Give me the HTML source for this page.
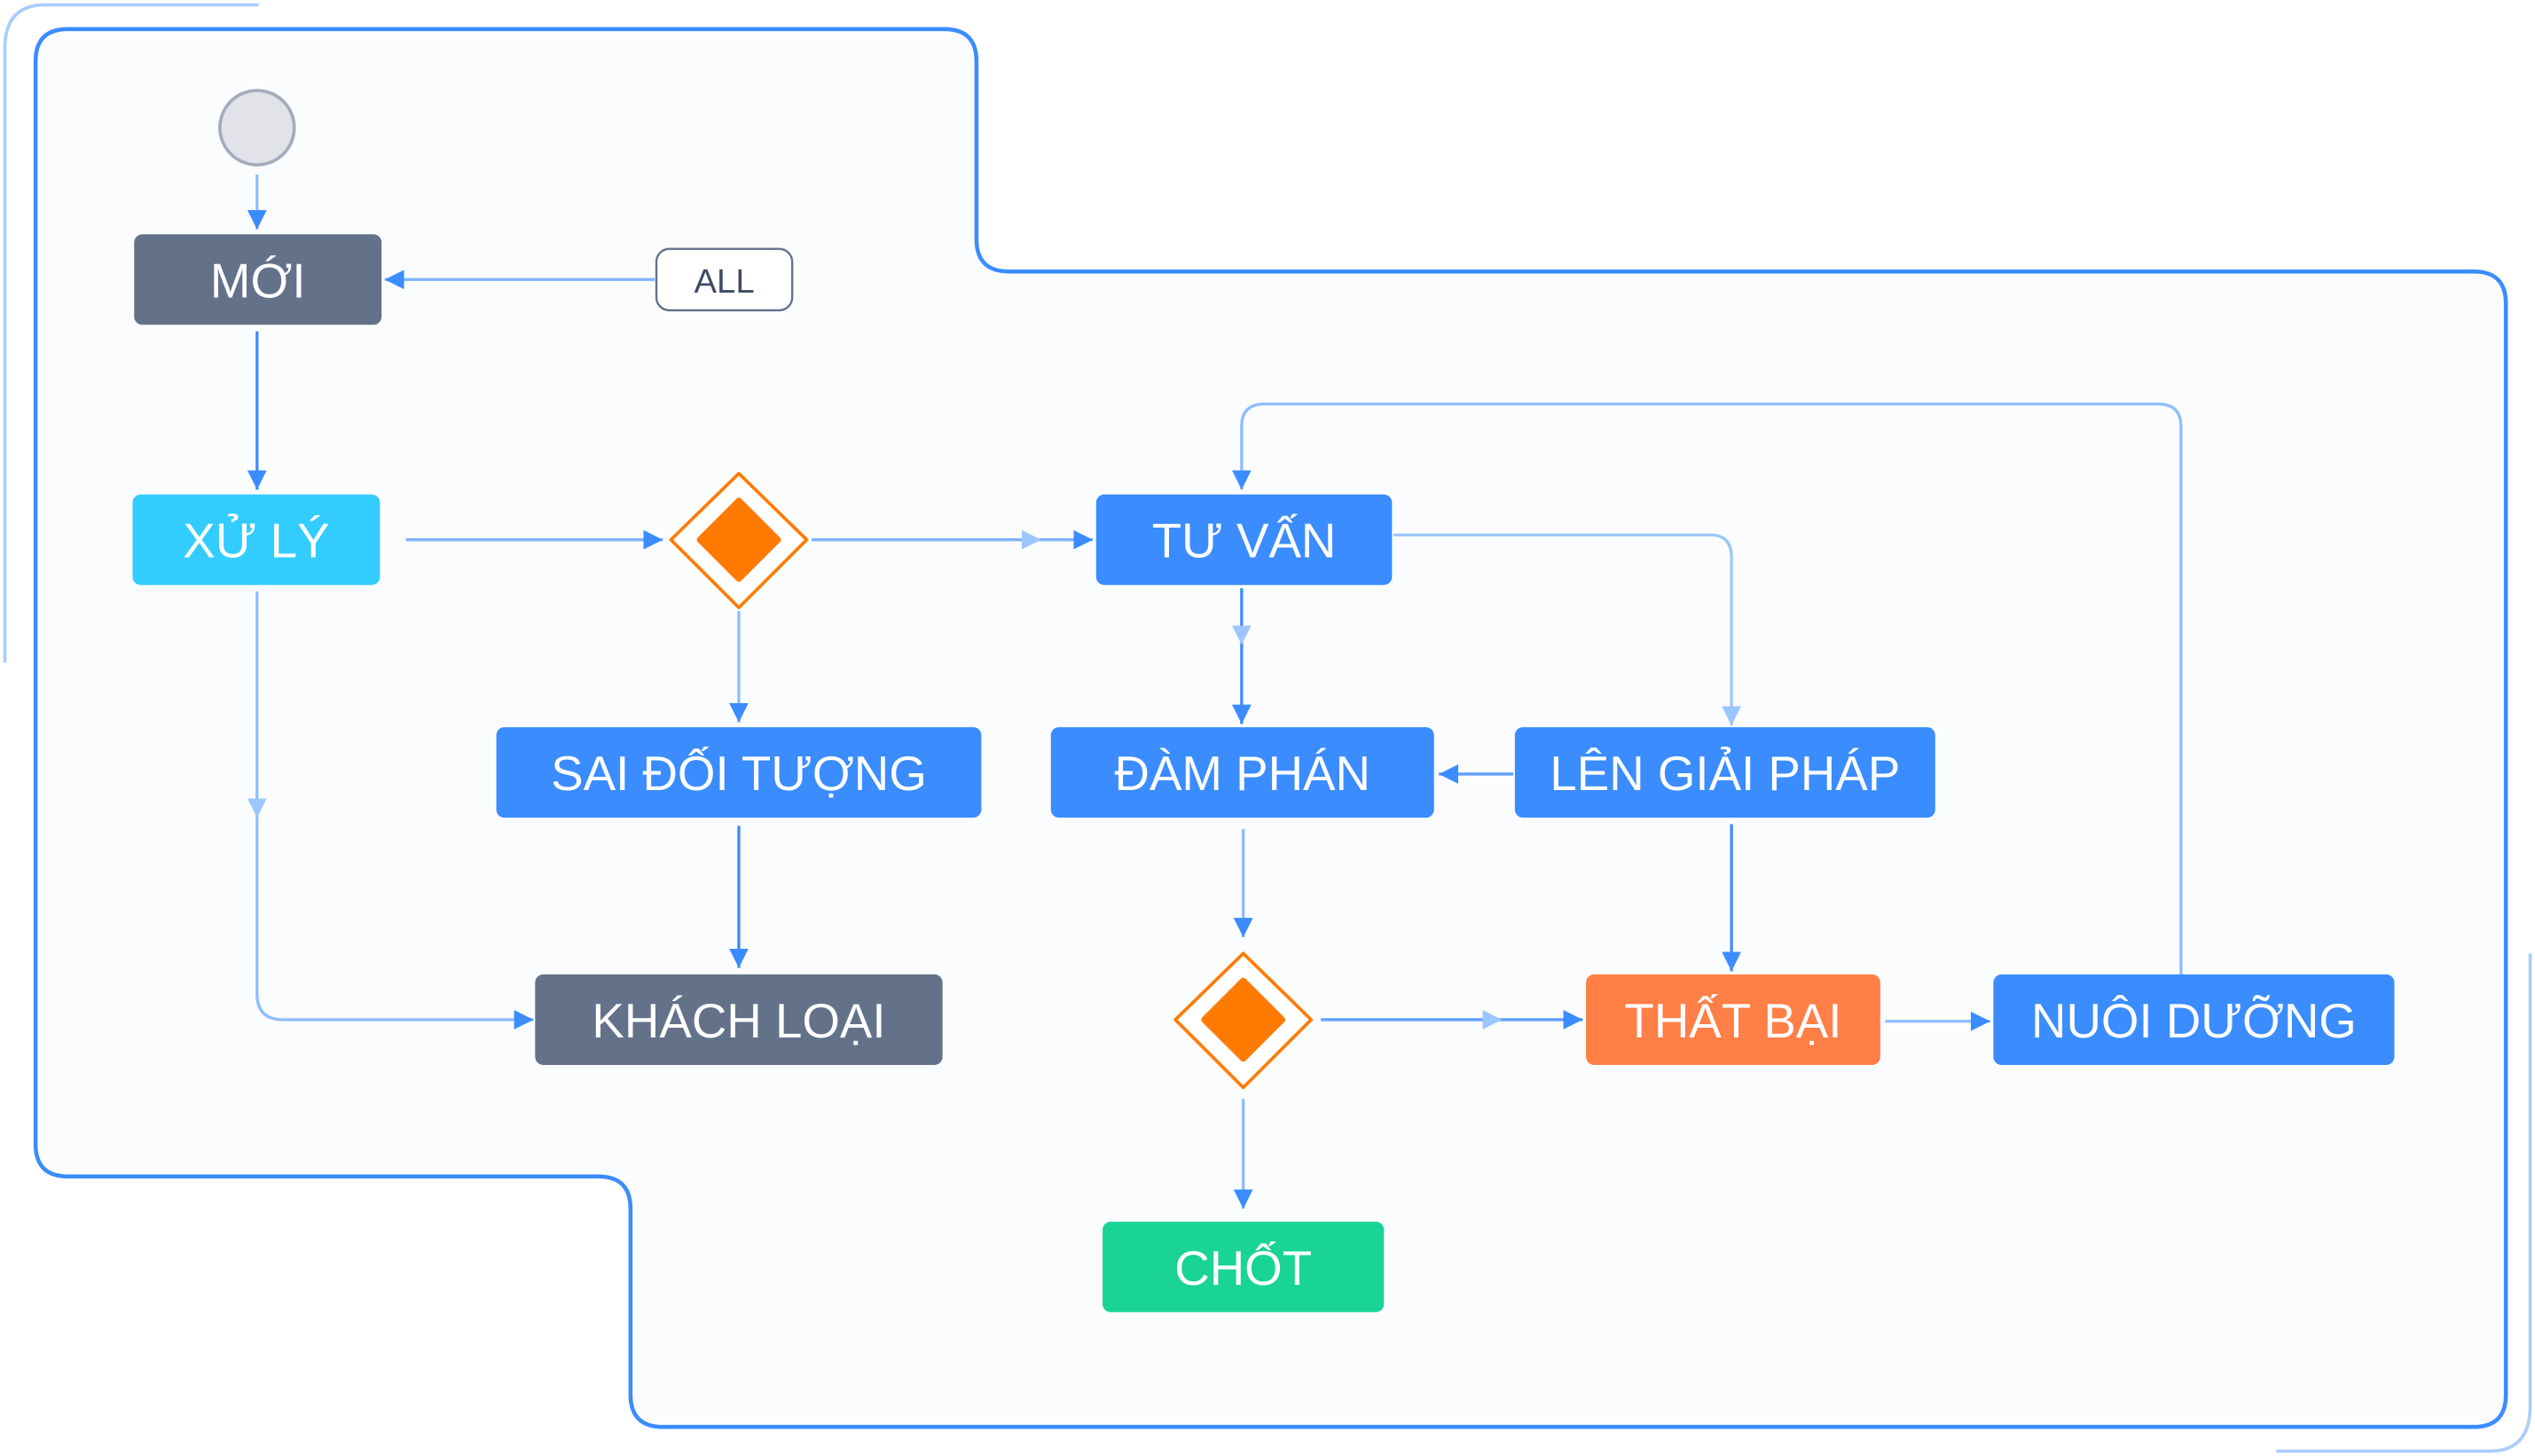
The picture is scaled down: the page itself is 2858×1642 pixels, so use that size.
<!DOCTYPE html>
<html><head><meta charset="utf-8"><style>
html,body{margin:0;padding:0;background:#fff;}
svg{display:block;}
text{font-family:"Liberation Sans","DejaVu Sans",sans-serif;}
</style></head><body>
<svg width="2858" height="1642" viewBox="0 0 1568 901" preserveAspectRatio="none" xmlns="http://www.w3.org/2000/svg">
<defs>
<marker id="a" viewBox="0 0 10 10" refX="10" refY="5" markerWidth="12" markerHeight="12" markerUnits="userSpaceOnUse" orient="auto"><path d="M0,0 L10,5 L0,10 z" fill="#3a8cff"/></marker>
<marker id="al" viewBox="0 0 10 10" refX="10" refY="5" markerWidth="12" markerHeight="12" markerUnits="userSpaceOnUse" orient="auto"><path d="M0,0 L10,5 L0,10 z" fill="#9cc6ff"/></marker>
</defs>
<path d="M160,3 L28,3 Q3,3 3,30 L3,410" fill="none" stroke="#a9cdff" stroke-width="2"/>
<path d="M1408,898 L1540,898 Q1565,898 1565,870 L1565,590" fill="none" stroke="#a9cdff" stroke-width="2"/>
<path d="M42,18 L584,18 Q604,18 604,38 L604,148 Q604,168 624,168 L1530,168 Q1550,168 1550,188 L1550,863 Q1550,883 1530,883 L410,883 Q390,883 390,863 L390,748 Q390,728 370,728 L42,728 Q22,728 22,708 L22,38 Q22,18 42,18 Z" fill="#fbfcfe" stroke="#3a8cff" stroke-width="2.5"/>
<g fill="none" stroke="#3a8cff" stroke-width="1.8">
<line x1="159" y1="108" x2="159" y2="142" stroke="#8dbdff" marker-end="url(#a)"/>
<line x1="159" y1="205" x2="159" y2="303" marker-end="url(#a)"/>
<line x1="405" y1="173" x2="238" y2="173" stroke="#7fb3ff" marker-end="url(#a)"/>
<line x1="251" y1="334" x2="410" y2="334" stroke="#7fb3ff" marker-end="url(#a)"/>
<line x1="502" y1="334" x2="676" y2="334" stroke="#7fb3ff" marker-end="url(#a)"/>
<line x1="502" y1="334" x2="644" y2="334" stroke="none" marker-end="url(#al)"/>
<line x1="457" y1="378" x2="457" y2="447" stroke="#8dbdff" marker-end="url(#a)"/>
<line x1="457" y1="511" x2="457" y2="599" marker-end="url(#a)"/>
<path d="M159,366 L159,615 Q159,631 175,631 L330,631" stroke="#8dbdff" marker-end="url(#a)"/>
<line x1="159" y1="366" x2="159" y2="506" stroke="none" marker-end="url(#al)"/>
<line x1="768" y1="364" x2="768" y2="448" marker-end="url(#a)"/>
<line x1="768" y1="364" x2="768" y2="399" stroke="none" marker-end="url(#al)"/>
<path d="M862,331 L1058,331 Q1071,331 1071,345 L1071,449" stroke="#9cc6ff" marker-end="url(#al)"/>
<line x1="936" y1="479" x2="890" y2="479" stroke="#5c9fff" marker-end="url(#a)"/>
<line x1="1071" y1="510" x2="1071" y2="601" marker-end="url(#a)"/>
<line x1="769" y1="513" x2="769" y2="580" stroke="#8dbdff" marker-end="url(#a)"/>
<line x1="817" y1="631" x2="979" y2="631" stroke="#5c9fff" marker-end="url(#a)"/>
<line x1="817" y1="631" x2="929" y2="631" stroke="none" marker-end="url(#al)"/>
<line x1="769" y1="680" x2="769" y2="748" stroke="#8dbdff" marker-end="url(#a)"/>
<line x1="1166" y1="632" x2="1231" y2="632" stroke="#8dbdff" marker-end="url(#a)"/>
<path d="M1349,603 L1349,264 Q1349,250 1335,250 L782,250 Q768,250 768,264 L768,303" stroke="#8dbdff" marker-end="url(#a)"/>
</g>
<circle cx="159" cy="79" r="23" fill="#e1e3e8" stroke="#a3acbb" stroke-width="2"/>
<g font-size="30" fill="#fff" text-anchor="middle">
<rect x="83" y="145" width="153" height="56" rx="5" fill="#637189"/><text x="159.5" y="184" fill="#fff">MỚI</text>
<rect x="406" y="154" width="84" height="38" rx="8" fill="#fff" stroke="#637189" stroke-width="1.3"/><text x="448" y="181" font-size="21" fill="#3e4a63">ALL</text>
<rect x="82" y="306" width="153" height="56" rx="5" fill="#33ccff"/><text x="158.5" y="345" fill="#fff">XỬ LÝ</text>
<rect x="678" y="306" width="183" height="56" rx="5" fill="#3a8cff"/><text x="769.5" y="345" fill="#fff">TƯ VẤN</text>
<rect x="307" y="450" width="300" height="56" rx="5" fill="#3a8cff"/><text x="457" y="489" fill="#fff">SAI ĐỐI TƯỢNG</text>
<rect x="650" y="450" width="237" height="56" rx="5" fill="#3a8cff"/><text x="768.5" y="489" fill="#fff">ĐÀM PHÁN</text>
<rect x="937" y="450" width="260" height="56" rx="5" fill="#3a8cff"/><text x="1067" y="489" fill="#fff">LÊN GIẢI PHÁP</text>
<rect x="331" y="603" width="252" height="56" rx="5" fill="#637189"/><text x="457" y="642" fill="#fff">KHÁCH LOẠI</text>
<rect x="981" y="603" width="182" height="56" rx="5" fill="#ff7f46"/><text x="1072" y="642" fill="#fff">THẤT BẠI</text>
<rect x="1233" y="603" width="248" height="56" rx="5" fill="#3a8cff"/><text x="1357" y="642" fill="#fff">NUÔI DƯỠNG</text>
<rect x="682" y="756" width="174" height="56" rx="5" fill="#19d494"/><text x="769" y="795" fill="#fff">CHỐT</text>
</g>
<g stroke-linejoin="round">
<path d="M457,293 L499,334 L457,376 L415,334 Z" fill="#fff" stroke="#ff7a00" stroke-width="2"/>
<path d="M457,310 L481,334 L457,358 L433,334 Z" fill="#ff7a00" stroke="#ff7a00" stroke-width="4"/>
<path d="M769,590 L811,631 L769,673 L727,631 Z" fill="#fff" stroke="#ff7a00" stroke-width="2"/>
<path d="M769,607 L793,631 L769,655 L745,631 Z" fill="#ff7a00" stroke="#ff7a00" stroke-width="4"/>
</g>
</svg>
</body></html>
